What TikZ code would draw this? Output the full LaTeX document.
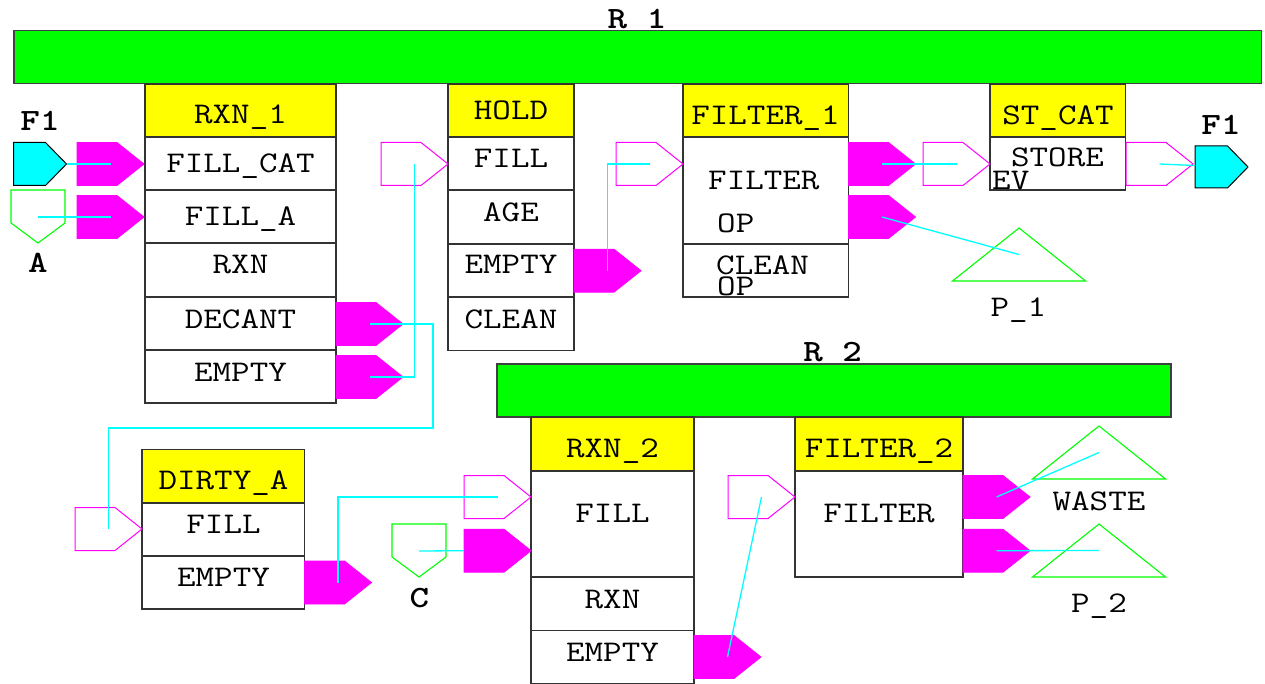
\documentclass[tikz,border=0pt]{standalone}
\definecolor{mgn}{RGB}{255,0,255}
\definecolor{cyn}{RGB}{0,255,255}
\definecolor{grn}{RGB}{0,255,0}
\definecolor{yel}{RGB}{255,255,0}
\newcommand\mt[1]{\scalebox{1.2}[1]{#1}}
\tikzset{
 lbl/.style={font=\ttfamily\fontsize{30}{30}\selectfont, inner sep=0pt, anchor=base},
 lblw/.style={font=\ttfamily\fontsize{30}{30}\selectfont, inner sep=0pt, anchor=base west},
 blbl/.style={font=\ttfamily\bfseries\fontsize{31}{31}\selectfont, inner sep=0pt, anchor=base},
 cellbox/.style={draw=black!80, fill=white, line width=1.3pt},
 headbox/.style={draw=black!80, fill=yel, line width=1.3pt},
 barbox/.style={draw=black!75, fill=grn, line width=1.4pt},
 portfill/.style={fill=mgn, draw=mgn, line width=0.8pt},
 portopen/.style={draw=mgn, fill=white, line width=1pt},
 portcyan/.style={draw=black, fill=cyn, line width=1pt},
 srcgreen/.style={draw=grn, fill=white, line width=1.1pt},
 conn/.style={draw=cyn, line width=1.3pt},
}
% port pointing right: name, left x, centre y, style
\newcommand\portR[4]{%
 \draw[#4] (#2,#3-21.5) -- (#2+40,#3-21.5) -- (#2+67,#3) -- (#2+40,#3+21.5) -- (#2,#3+21.5) -- cycle;
 \coordinate (#1) at (#2+33.5,#3);
 \coordinate (#1w) at (#2,#3);}
% green source pointing down: name, left x, top y
\newcommand\downsrc[3]{%
 \draw[srcgreen] (#2,#3) -- (#2+54,#3) -- (#2+54,#3+33) -- (#2+27,#3+53) -- (#2,#3+33) -- cycle;
 \coordinate (#1) at (#2+27,#3+27);}
% green sink triangle: name, apex x, apex y
\newcommand\sinktri[3]{%
 \draw[srcgreen] (#2,#3) -- (#2+66.5,#3+53) -- (#2-66.5,#3+53) -- cycle;
 \coordinate (#1) at (#2,#3+26.5);}
\begin{document}
\begin{tikzpicture}[x=1pt,y=-1pt]
\useasboundingbox (0,0) rectangle (1265,684);
% bar labels (under the bars)
\node[blbl] (lR1) at (637,28.3) {\mt{R\_1}};
\node[blbl] (lR2) at (832.7,361.7) {\mt{R\_2}};
% resource bars
\draw[barbox] (14,30.5) rectangle (1261.5,83.5);
\draw[barbox] (497,364) rectangle (1171,417);
% RXN_1
\draw[headbox] (145,84) rectangle (336,137);
\draw[cellbox] (145,137) rectangle (336,190);
\draw[cellbox] (145,190) rectangle (336,243);
\draw[cellbox] (145,243) rectangle (336,297);
\draw[cellbox] (145,297) rectangle (336,350);
\draw[cellbox] (145,350) rectangle (336,403);
% HOLD
\draw[headbox] (448,84) rectangle (574,137);
\draw[cellbox] (448,137) rectangle (574,190);
\draw[cellbox] (448,190) rectangle (574,244);
\draw[cellbox] (448,244) rectangle (574,297);
\draw[cellbox] (448,297) rectangle (574,350.5);
% FILTER_1
\draw[headbox] (683,84) rectangle (848.5,137);
\draw[cellbox] (683,137) rectangle (848.5,244);
\draw[cellbox] (683,244) rectangle (848.5,297);
% ST_CAT
\draw[headbox] (990,84) rectangle (1125.5,137);
\draw[cellbox] (990,137) rectangle (1125.5,190);
% DIRTY_A
\draw[headbox] (142,449.5) rectangle (304.5,503);
\draw[cellbox] (142,503) rectangle (304.5,556);
\draw[cellbox] (142,556) rectangle (304.5,609);
% RXN_2
\draw[headbox] (531,417) rectangle (694,471);
\draw[cellbox] (531,471) rectangle (694,577);
\draw[cellbox] (531,577) rectangle (694,630.5);
\draw[cellbox] (531,630.5) rectangle (694,683.3);
% FILTER_2
\draw[headbox] (795,417) rectangle (963,471);
\draw[cellbox] (795,471) rectangle (963,577);
% feed F1 (left) and F1 (right)
\draw[portcyan] (13.5,142.5) -- (45.5,142.5) -- (66.5,164) -- (45.5,185.5) -- (13.5,185.5) -- cycle;
\coordinate (f1l) at (66.5,164);
\draw[portcyan] (1195,146) -- (1227.5,146) -- (1248,167) -- (1227.5,188) -- (1195,188) -- cycle;
\coordinate (f1r) at (1195,165.5);
% green sources
\downsrc{srcA}{11}{190}
\downsrc{srcC}{392}{524}
% ports
\portR{rxni1}{77}{164}{portfill}
\portR{rxni2}{77}{217}{portfill}
\portR{rxno1}{336}{324}{portfill}
\portR{rxno2}{336}{377}{portfill}
\portR{holdi}{381}{164}{portopen}
\portR{holdo}{574}{270.7}{portfill}
\portR{filti}{616}{164}{portopen}
\portR{filto1}{848.5}{164}{portfill}
\portR{filto2}{848.5}{217}{portfill}
\portR{stci}{923}{164}{portopen}
\portR{stco}{1126}{164}{portopen}
\portR{dirti}{75}{529}{portopen}
\portR{dirto}{304.5}{582.5}{portfill}
\portR{rxbi1}{464}{497}{portopen}
\portR{rxbi2}{464}{550.7}{portfill}
\portR{rxbo}{694}{657}{portfill}
\portR{fltbi}{728}{497}{portopen}
\portR{fltbo1}{963}{497}{portfill}
\portR{fltbo2}{963}{550.7}{portfill}
% sinks
\sinktri{sinkP1}{1019}{228}
\sinktri{sinkW}{1099}{426}
\sinktri{sinkP2}{1099}{524}
% connectors
\draw[conn] (f1l) -- (rxni1);
\draw[conn] (srcA) -- (rxni2);
\draw[conn] (rxno1) -| (433,428) -| (dirti);
\draw[conn] (rxno2) -| (holdi);
\draw[conn] (holdo) |- (filti);
\draw[conn] (filto1) -- (stci);
\draw[conn] (filto2) -- (sinkP1);
\draw[conn] (stco) -- (f1r);
\draw[conn] (dirto) |- (rxbi1);
\draw[conn] (srcC) -- (rxbi2w);
\draw[conn] (rxbo) -- (fltbi);
\draw[conn] (fltbo1) -- (sinkW);
\draw[conn] (fltbo2) -- (sinkP2);
% labels
\node[blbl] (lF1a) at (40,130.7) {\mt{F1}};
\node[blbl] (lA) at (38,273) {\mt{A}};
\node[blbl] (lC) at (419.3,607.3) {\mt{C}};
\node[blbl] (lF1b) at (1221,135) {\mt{F1}};
% RXN_1 texts
\node[lbl] (t11) at (240.5,124) {\mt{RXN\_1}};
\node[lbl] (t12) at (240.5,172.3) {\mt{FILL\_CAT}};
\node[lbl] (t13) at (240.5,225.7) {\mt{FILL\_A}};
\node[lbl] (t14) at (240.5,274) {\mt{RXN}};
\node[lbl] (t15) at (240.5,328) {\mt{DECANT}};
\node[lbl] (t16) at (240.5,381) {\mt{EMPTY}};
% HOLD texts
\node[lbl] (t21) at (511,120) {\mt{HOLD}};
\node[lbl] (t22) at (511,168) {\mt{FILL}};
\node[lbl] (t23) at (511,222) {\mt{AGE}};
\node[lbl] (t24) at (511,274) {\mt{EMPTY}};
\node[lbl] (t25) at (511,328) {\mt{CLEAN}};
% FILTER_1 texts
\node[lbl] (t31) at (765.5,125) {\mt{FILTER\_1}};
\node[lblw] (t32) at (708,190) {\mt{FILTER}};
\node[lblw] (t33) at (717,232.7) {\mt{OP}};
\node[lblw] (t34) at (716,275) {\mt{CLEAN}};
\node[lblw] (t35) at (717,296) {\mt{OP}};
% ST_CAT texts
\node[lbl] (t41) at (1058,125) {\mt{ST\_CAT}};
\node[lbl] (t42) at (1057.5,167) {\mt{STORE}};
\node[lblw] (t43) at (992,190) {\mt{EV}};
% DIRTY_A texts
\node[lbl] (t51) at (223.5,489) {\mt{DIRTY\_A}};
\node[lbl] (t52) at (223.5,533) {\mt{FILL}};
\node[lbl] (t53) at (223.5,586) {\mt{EMPTY}};
% RXN_2 texts
\node[lbl] (t61) at (612.5,457.7) {\mt{RXN\_2}};
\node[lbl] (t62) at (612.5,522) {\mt{FILL}};
\node[lbl] (t63) at (612.5,608) {\mt{RXN}};
\node[lbl] (t64) at (612.5,661) {\mt{EMPTY}};
% FILTER_2 texts
\node[lbl] (t71) at (879,457.7) {\mt{FILTER\_2}};
\node[lbl] (t72) at (879,522) {\mt{FILTER}};
% sink labels
\node[lbl] (lP1) at (1018.3,316.7) {\mt{P\_1}};
\node[lbl] (lW) at (1099,510) {\mt{WASTE}};
\node[lbl] (lP2) at (1099,612.7) {\mt{P\_2}};
\end{tikzpicture}
\end{document}
